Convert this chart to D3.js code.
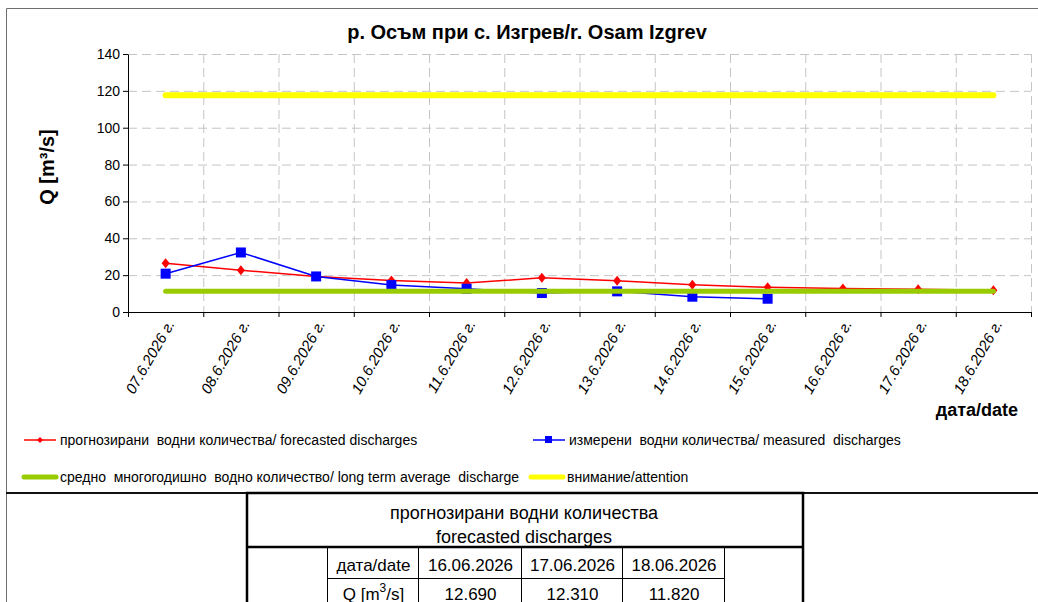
<!DOCTYPE html>
<html>
<head>
<meta charset="utf-8">
<script src="https://cdn.jsdelivr.net/npm/d3@7"></script>
<style>
    body { margin: 0; background: #fff; }
    svg { display: block; font-family: "Liberation Sans", Arial, sans-serif; }
    text { white-space: pre; }
</style>
</head>
<body>
<script>
// Chart data
const dates = ['07.6.2026 г.', '08.6.2026 г.', '09.6.2026 г.', '10.6.2026 г.', '11.6.2026 г.', '12.6.2026 г.',
    '13.6.2026 г.', '14.6.2026 г.', '15.6.2026 г.', '16.6.2026 г.', '17.6.2026 г.', '18.6.2026 г.'];
const forecasted = [26.5, 22.7, 19.3, 17.1, 15.7, 18.6, 17.0, 14.8, 13.4, 12.69, 12.31, 11.82];
const measured = [20.8, 32.3, 19.3, 14.6, 12.6, 10.3, 11.2, 8.3, 7.2, null, null, null];
const longTermAverage = 11.2;
const attentionLevel = 117.6;
const yTicks = [0, 20, 40, 60, 80, 100, 120, 140];

// Table below the chart
const tableDates = ['16.06.2026', '17.06.2026', '18.06.2026'];
const tableValues = ['12.690', '12.310', '11.820'];

const width = 1038, height = 602;
const margin = { top: 54, right: 7, bottom: 290, left: 128 };
const innerWidth = width - margin.left - margin.right;
const innerHeight = height - margin.top - margin.bottom;

const svg = d3.select('body').append('svg')
    .attr('width', width)
    .attr('height', height);

svg.append('rect').attr('width', width).attr('height', height).attr('fill', '#fff');

// Outer chart frame
svg.append('path')
    .attr('d', `M${width + 2},8.5 H6.5 V${height}`)
    .attr('fill', 'none')
    .attr('stroke', '#6e6e6e')
    .attr('stroke-width', 1);
svg.append('line')
    .attr('x1', 6).attr('x2', width).attr('y1', 493).attr('y2', 493)
    .attr('stroke', '#111').attr('stroke-width', 2);

// Title
svg.append('text')
    .attr('x', 527)
    .attr('y', 39)
    .attr('text-anchor', 'middle')
    .attr('font-size', '20px')
    .attr('font-weight', 'bold')
    .text('р. Осъм при с. Изгрев/r. Osam Izgrev');

const plot = svg.append('g')
    .attr('transform', `translate(${margin.left},${margin.top})`);

// Scales
const x = d3.scaleBand().domain(dates).range([0, innerWidth]);
const y = d3.scaleLinear().domain([0, 140]).range([innerHeight, 0]);
const cx = d => x(d) + x.bandwidth() / 2;

// Dashed grid
plot.append('g')
    .selectAll('line')
    .data(yTicks.slice(1))
    .join('line')
    .attr('x1', 0).attr('x2', innerWidth)
    .attr('y1', d => y(d) + 0.5).attr('y2', d => y(d) + 0.5)
    .attr('stroke', '#c4c4c4')
    .attr('stroke-dasharray', '9,5');
plot.append('g')
    .selectAll('line')
    .data(dates)
    .join('line')
    .attr('x1', d => x(d) + x.bandwidth() + 0.5).attr('x2', d => x(d) + x.bandwidth() + 0.5)
    .attr('y1', 0).attr('y2', innerHeight)
    .attr('stroke', '#c4c4c4')
    .attr('stroke-dasharray', '9,5');

// Axes
const yAxis = plot.append('g')
    .call(d3.axisLeft(y).tickValues(yTicks).tickSize(5).tickSizeOuter(0));
yAxis.selectAll('text').attr('font-size', '14px').attr('fill', '#000').attr('font-family', null);
yAxis.selectAll('line, path').attr('stroke', '#000');

const xAxis = plot.append('g')
    .attr('transform', `translate(0,${innerHeight})`)
    .call(d3.axisBottom(x).tickValues([]).tickSizeOuter(0));
xAxis.select('path').attr('stroke', '#000');
xAxis.selectAll('.bound')
    .data(d3.range(dates.length + 1))
    .join('line')
    .attr('x1', i => i * x.bandwidth() + 0.5).attr('x2', i => i * x.bandwidth() + 0.5)
    .attr('y1', 0).attr('y2', 5)
    .attr('stroke', '#000');
xAxis.selectAll('.lbl')
    .data(dates)
    .join('text')
    .attr('transform', d => `translate(${cx(d) + 5},${9}) rotate(-60)`)
    .attr('text-anchor', 'end')
    .attr('dy', '0.35em')
    .attr('fill', '#000')
    .attr('font-family', null)
    .attr('font-size', '15px')
    .attr('font-style', 'italic')
    .text(d => d);

// Axis titles
svg.append('text')
    .attr('transform', 'translate(54,167) rotate(-90)')
    .attr('text-anchor', 'middle')
    .attr('font-size', '20px')
    .attr('font-weight', 'bold')
    .text('Q [m³/s]');
svg.append('text')
    .attr('x', 1018)
    .attr('y', 416)
    .attr('text-anchor', 'end')
    .attr('font-size', '18px')
    .attr('font-weight', 'bold')
    .text('дата/date');

// Series lines
const line = d3.line()
    .defined(d => d.v != null)
    .x(d => cx(d.date))
    .y(d => y(d.v));

const fData = dates.map((date, i) => ({ date, v: forecasted[i] }));
const mData = dates.map((date, i) => ({ date, v: measured[i] })).filter(d => d.v != null);

plot.append('path')
    .datum(fData)
    .attr('d', line)
    .attr('fill', 'none')
    .attr('stroke', '#ff0000')
    .attr('stroke-width', 1.5);
plot.append('g')
    .selectAll('path')
    .data(fData)
    .join('path')
    .attr('transform', d => `translate(${cx(d.date)},${y(d.v)})`)
    .attr('d', 'M0,-5 L4,0 L0,5 L-4,0 Z')
    .attr('fill', '#ff0000');

plot.append('path')
    .datum(mData)
    .attr('d', line)
    .attr('fill', 'none')
    .attr('stroke', '#0000ff')
    .attr('stroke-width', 1.5);
plot.append('g')
    .selectAll('rect')
    .data(mData)
    .join('rect')
    .attr('x', d => cx(d.date) - 5)
    .attr('y', d => y(d.v) - 5)
    .attr('width', 10)
    .attr('height', 10)
    .attr('fill', '#0000ff');

// Reference levels
const first = cx(dates[0]), last = cx(dates[dates.length - 1]);
plot.append('line')
    .attr('x1', first).attr('x2', last)
    .attr('y1', y(longTermAverage)).attr('y2', y(longTermAverage))
    .attr('stroke', '#99cc00')
    .attr('stroke-width', 5)
    .attr('stroke-linecap', 'round');
plot.append('line')
    .attr('x1', first).attr('x2', last)
    .attr('y1', y(attentionLevel)).attr('y2', y(attentionLevel))
    .attr('stroke', '#ffff00')
    .attr('stroke-width', 6)
    .attr('stroke-linecap', 'round');

// Legend
const legendItems = [
    { label: 'прогнозирани  водни количества/ forecasted discharges', color: '#ff0000', mark: 'diamond', x: 24, y: 440 },
    { label: 'измерени  водни количества/ measured  discharges', color: '#0000ff', mark: 'square', x: 533, y: 440 },
    { label: 'средно  многогодишно  водно количество/ long term average  discharge', color: '#99cc00', mark: 'thick', x: 24, y: 477 },
    { label: 'внимание/attention', color: '#ffff00', mark: 'thick', x: 531, y: 477 }
];
const legend = svg.append('g').attr('class', 'legend');
legendItems.forEach(item => {
    const g = legend.append('g').attr('transform', `translate(${item.x},${item.y})`);
    g.append('line')
        .attr('x1', 0).attr('x2', 32)
        .attr('stroke', item.color)
        .attr('stroke-width', item.mark === 'thick' ? 5 : 1.5)
        .attr('stroke-linecap', item.mark === 'thick' ? 'round' : 'butt');
    if (item.mark === 'diamond') {
        g.append('path').attr('d', 'M16,-3 L19,0 L16,3 L13,0 Z').attr('fill', item.color);
    } else if (item.mark === 'square') {
        g.append('rect').attr('x', 12).attr('y', -4).attr('width', 7).attr('height', 7).attr('fill', item.color);
    }
    g.append('text')
        .attr('x', 36)
        .attr('y', 5)
        .attr('font-size', '14px')
        .text(item.label);
});

// Forecast table
const table = svg.append('g').attr('class', 'table');
const tx = [247, 327, 418, 521, 622, 724, 803];
const rowY = [493, 547, 578, 609];

table.append('path')
    .attr('d', `M${tx[0]},${height + 2} V${rowY[0]} H${tx[6]} V${height + 2}`)
    .attr('fill', 'none')
    .attr('stroke', '#000')
    .attr('stroke-width', 2.5);
table.append('line')
    .attr('x1', tx[0]).attr('x2', tx[6]).attr('y1', rowY[1]).attr('y2', rowY[1])
    .attr('stroke', '#000').attr('stroke-width', 2.5);
table.append('line')
    .attr('x1', tx[1]).attr('x2', tx[5]).attr('y1', rowY[2] + 0.5).attr('y2', rowY[2] + 0.5)
    .attr('stroke', '#000').attr('stroke-width', 1);
table.selectAll('.vline')
    .data(tx.slice(1, 6))
    .join('line')
    .attr('x1', d => d + 0.5).attr('x2', d => d + 0.5)
    .attr('y1', rowY[1]).attr('y2', height)
    .attr('stroke', '#000').attr('stroke-width', 1);

table.append('text')
    .attr('x', 524).attr('y', 519)
    .attr('text-anchor', 'middle').attr('font-size', '18px')
    .text('прогнозирани водни количества');
table.append('text')
    .attr('x', 524).attr('y', 543)
    .attr('text-anchor', 'middle').attr('font-size', '18px')
    .text('forecasted discharges');

const headerRow = ['дата/date', ...tableDates];
headerRow.forEach((t, i) => {
    table.append('text')
        .attr('x', (tx[i + 1] + tx[i + 2]) / 2 + 1)
        .attr('y', 571)
        .attr('text-anchor', 'middle')
        .attr('font-size', '17px')
        .text(t);
});
const qLabel = table.append('text')
    .attr('x', (tx[1] + tx[2]) / 2 + 1)
    .attr('y', 600)
    .attr('text-anchor', 'middle')
    .attr('font-size', '17px');
qLabel.append('tspan').text('Q [m');
qLabel.append('tspan').attr('dy', -8).attr('font-size', '12px').text('3');
qLabel.append('tspan').attr('dy', 8).text('/s]');
tableValues.forEach((t, i) => {
    table.append('text')
        .attr('x', (tx[i + 2] + tx[i + 3]) / 2 + 1)
        .attr('y', 600)
        .attr('text-anchor', 'middle')
        .attr('font-size', '17px')
        .text(t);
});
</script>
</body>
</html>
